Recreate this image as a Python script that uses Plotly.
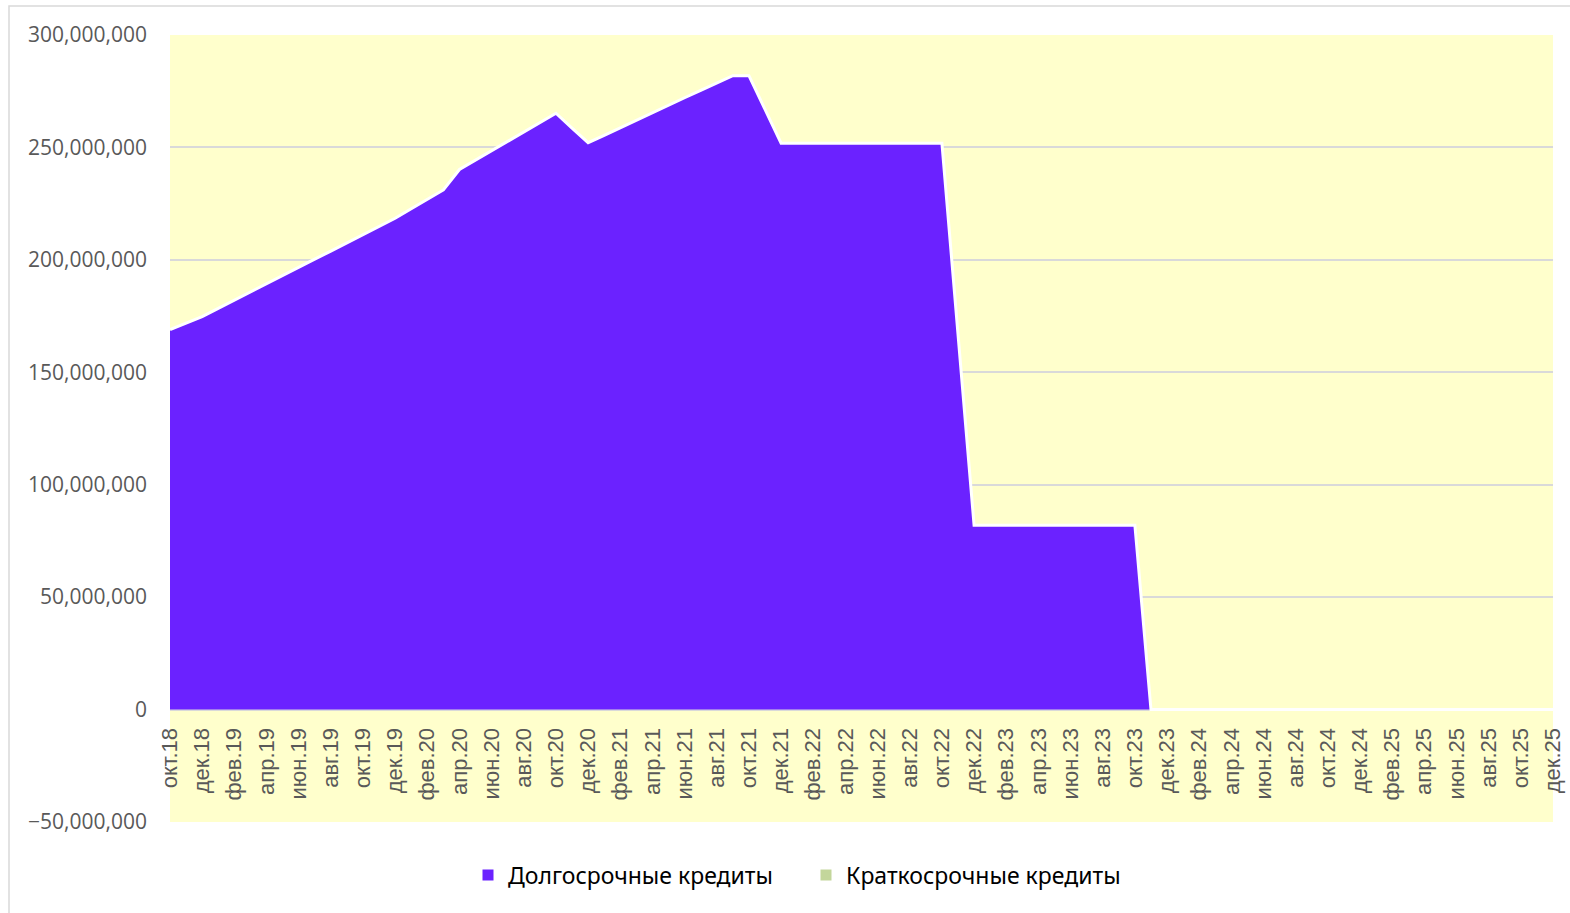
import plotly.graph_objects as go

months = ["янв", "фев", "мар", "апр", "май", "июн", "июл", "авг", "сен", "окт", "ноя", "дек"]
categories = []
for yr in range(18, 26):
    for mi, m in enumerate(months):
        if yr == 18 and mi < 9:
            continue
        categories.append(f"{m}.{yr}")

# Долгосрочные кредиты, окт.18 .. дек.25
long_term = [
    169.0e6, 171.9e6, 174.8e6, 178.4e6, 182.1e6, 185.7e6, 189.4e6, 193.0e6, 196.6e6,
    200.3e6, 203.9e6, 207.6e6, 211.2e6, 214.9e6, 218.5e6, 222.7e6, 226.9e6, 231.1e6,
    240.2e6, 244.4e6, 248.6e6, 252.8e6, 256.9e6, 261.0e6, 265.2e6, 258.6e6, 252.1e6,
    255.4e6, 258.8e6, 262.1e6, 265.4e6, 268.8e6, 272.1e6, 275.4e6, 278.7e6, 281.9e6,
    281.9e6, 267.0e6, 251.9e6, 251.9e6, 251.9e6, 251.9e6, 251.9e6, 251.9e6, 251.9e6,
    251.9e6, 251.9e6, 251.9e6, 251.9e6, 167.0e6, 82.0e6, 82.0e6, 82.0e6, 82.0e6,
    82.0e6, 82.0e6, 82.0e6, 82.0e6, 82.0e6, 82.0e6, 82.0e6, 0.0,
] + [0.0] * 26
short_term = [0.0] * len(categories)

tick_labels = categories[::2]

purple = "#6B22FF"
green = "#C3D69B"
text_col = "#595959"

fig = go.Figure()
fig.add_trace(go.Scatter(
    x=categories, y=long_term, name="Долгосрочные кредиты", stackgroup="one",
    mode="lines", line=dict(color="white", width=3), fillcolor=purple,
    showlegend=False, hoverinfo="x+y",
))
fig.add_trace(go.Scatter(
    x=categories, y=short_term, name="Краткосрочные кредиты", stackgroup="one",
    mode="lines", line=dict(color="white", width=0), fillcolor=green,
    showlegend=False, hoverinfo="x+y",
))
# legend entries (square markers)
for nm, col in [("Долгосрочные кредиты", purple), ("Краткосрочные кредиты", green)]:
    fig.add_trace(go.Scatter(
        x=[None], y=[None], mode="markers", name=nm,
        marker=dict(symbol="square", size=11, color=col),
    ))

# plot area targets x 170..1553, y 35..822 (page body margin removed below)
W, H = 1570, 913
L, R, T, B = 170, 17, 35, 91
pw, ph = W - L - R, H - T - B

fig.update_layout(
    width=W, height=H,
    margin=dict(l=L, r=R, t=T, b=B, autoexpand=False),
    paper_bgcolor="white",
    plot_bgcolor="#FFFFCC",
    font=dict(family="Open Sans", color=text_col),
    legend=dict(
        orientation="h", x=(468 - 170) / pw, xanchor="left", y=-0.04, yanchor="top",
        font=dict(family="Noto Sans", size=23, color="black"),
        itemwidth=30, tracegroupgap=0, traceorder="normal",
        entrywidth=293, entrywidthmode="pixels",
    ),
    shapes=[dict(
        type="rect", xref="paper", yref="paper",
        x0=(9 - 170) / pw, x1=1 + (1600 - 1553) / pw,
        y0=-(H) / ph, y1=1 + (35 - 6) / ph,
        line=dict(color="#D9D9D9", width=1.5), fillcolor="rgba(0,0,0,0)", layer="below",
    )],
)
fig.update_xaxes(
    type="category",
    range=[0, len(categories) - 1],
    tickmode="array", tickvals=tick_labels, ticktext=tick_labels,
    tickangle=-90,
    tickfont=dict(family="Liberation Sans", size=22, color=text_col),
    showgrid=False, showline=False, ticks="",
    anchor="free", position=50 / 350,
    zeroline=False, automargin=False, ticklabelstandoff=13,
)
fig.update_yaxes(
    range=[-50e6, 300e6], dtick=50e6, tick0=0,
    tickformat=",.0f",
    tickfont=dict(family="Open Sans", size=21, color=text_col),
    showgrid=True, gridcolor="#D9D9D9", gridwidth=1.5,
    zeroline=True, zerolinecolor="#D9D9D9", zerolinewidth=1.5,
    ticks="", ticklabelstandoff=22, automargin=False,
)

fig.write_html(
    "out.html",
    config={"displayModeBar": False},
    post_script="document.body.style.margin='0';document.body.style.overflow='hidden';",
)
